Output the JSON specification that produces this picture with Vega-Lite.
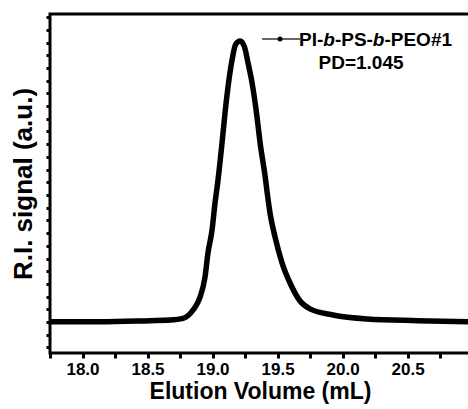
{
  "$schema": "https://vega.github.io/schema/vega-lite/v6.json",
  "autosize": {"type": "none"},
  "padding": {"left": 50, "top": 14, "right": 0, "bottom": 56},
  "width": 420,
  "height": 339,
  "background": "white",
  "config": {
    "view": {"stroke": "black", "strokeWidth": 3},
    "font": "Liberation Sans",
    "axis": {"grid": false, "domain": false, "tickColor": "black", "labelColor": "black", "titleColor": "black", "labelFont": "Liberation Sans", "titleFont": "Liberation Sans", "labelFontWeight": "bold", "titleFontWeight": "bold"}
  },
  "datasets": {
    "gpc": [
      {"v": 17.75, "s": 0.001},
      {"v": 18.135, "s": 0.001},
      {"v": 18.519, "s": 0.005},
      {"v": 18.673, "s": 0.007},
      {"v": 18.773, "s": 0.013},
      {"v": 18.85, "s": 0.043},
      {"v": 18.904, "s": 0.089},
      {"v": 18.942, "s": 0.16},
      {"v": 18.965, "s": 0.246},
      {"v": 18.996, "s": 0.327},
      {"v": 19.019, "s": 0.423},
      {"v": 19.042, "s": 0.505},
      {"v": 19.073, "s": 0.637},
      {"v": 19.096, "s": 0.744},
      {"v": 19.119, "s": 0.836},
      {"v": 19.15, "s": 0.932},
      {"v": 19.178, "s": 0.988},
      {"v": 19.212, "s": 1.0},
      {"v": 19.245, "s": 0.98},
      {"v": 19.273, "s": 0.922},
      {"v": 19.304, "s": 0.851},
      {"v": 19.342, "s": 0.73},
      {"v": 19.365, "s": 0.64},
      {"v": 19.404, "s": 0.52},
      {"v": 19.419, "s": 0.465},
      {"v": 19.442, "s": 0.388},
      {"v": 19.481, "s": 0.302},
      {"v": 19.535, "s": 0.21},
      {"v": 19.596, "s": 0.139},
      {"v": 19.673, "s": 0.075},
      {"v": 19.75, "s": 0.047},
      {"v": 19.927, "s": 0.025},
      {"v": 20.188, "s": 0.011},
      {"v": 20.573, "s": 0.005},
      {"v": 20.98, "s": 0.001}
    ],
    "labels": [
      {"t": "PI-", "v": 19.665, "s": 1.004, "st": "normal"},
      {"t": "b", "v": 19.852, "s": 1.004, "st": "italic"},
      {"t": "-PS-", "v": 19.941, "s": 1.004, "st": "normal"},
      {"t": "b", "v": 20.233, "s": 1.004, "st": "italic"},
      {"t": "-PEO#1", "v": 20.322, "s": 1.004, "st": "normal"}
    ]
  },
  "encoding": {
    "x": {"field": "v", "type": "quantitative", "scale": {"domain": [17.75, 20.98], "nice": false, "zero": false},
      "axis": {"title": "Elution Volume (mL)", "titleFontSize": 23, "labelFontSize": 17, "values": [17.75, 18, 18.25, 18.5, 18.75, 19, 19.25, 19.5, 19.75, 20, 20.25, 20.5, 20.75],
        "labelExpr": "(datum.value * 2) % 1 == 0 ? format(datum.value, '.1f') : ''", "tickSize": 5, "tickWidth": 3, "labelPadding": 3, "titlePadding": 3, "labelFlush": false}},
    "y": {"field": "s", "type": "quantitative", "scale": {"domain": [-0.11, 1.096], "nice": false, "zero": false},
      "axis": {"title": "R.I. signal (a.u.)", "titleFontSize": 26, "labels": false, "tickSize": 4, "tickWidth": 3,
        "values": [-0.0904, -0.0452, 0, 0.0452, 0.0904, 0.1356, 0.1808, 0.226, 0.2712, 0.3164, 0.3616, 0.4068, 0.452, 0.4972, 0.5424, 0.5876, 0.6328, 0.678, 0.7232, 0.7684, 0.8136, 0.8588, 0.904, 0.9492, 0.9944, 1.0396, 1.0848], "titlePadding": 8}}
  },
  "layer": [
    {
      "data": {"name": "gpc"},
      "mark": {"type": "line", "color": "black", "strokeWidth": 5.5, "clip": true, "interpolate": "monotone"}
    },
    {
      "data": {"values": [{"v": 19.381, "v2": 19.673, "s": 1.007}]},
      "mark": {"type": "rule", "color": "#333333", "strokeWidth": 1.5},
      "encoding": {"x2": {"field": "v2"}}
    },
    {
      "data": {"values": [{"v": 19.519, "s": 1.007}]},
      "mark": {"type": "point", "filled": true, "color": "black", "size": 25, "opacity": 1}
    },
    {
      "data": {"name": "labels"},
      "transform": [{"filter": "datum.st == 'normal'"}],
      "mark": {"type": "text", "align": "left", "baseline": "middle", "fontSize": 19, "fontWeight": "bold", "color": "black", "font": "Liberation Sans"},
      "encoding": {"text": {"field": "t"}}
    },
    {
      "data": {"name": "labels"},
      "transform": [{"filter": "datum.st == 'italic'"}],
      "mark": {"type": "text", "align": "left", "baseline": "middle", "fontSize": 19, "fontWeight": "bold", "fontStyle": "italic", "color": "black", "font": "Liberation Sans"},
      "encoding": {"text": {"field": "t"}}
    },
    {
      "data": {"values": [{"t": "PD=1.045", "v": 20.142, "s": 0.922}]},
      "mark": {"type": "text", "align": "center", "baseline": "middle", "fontSize": 19, "fontWeight": "bold", "color": "black", "font": "Liberation Sans"},
      "encoding": {"text": {"field": "t"}}
    }
  ]
}
